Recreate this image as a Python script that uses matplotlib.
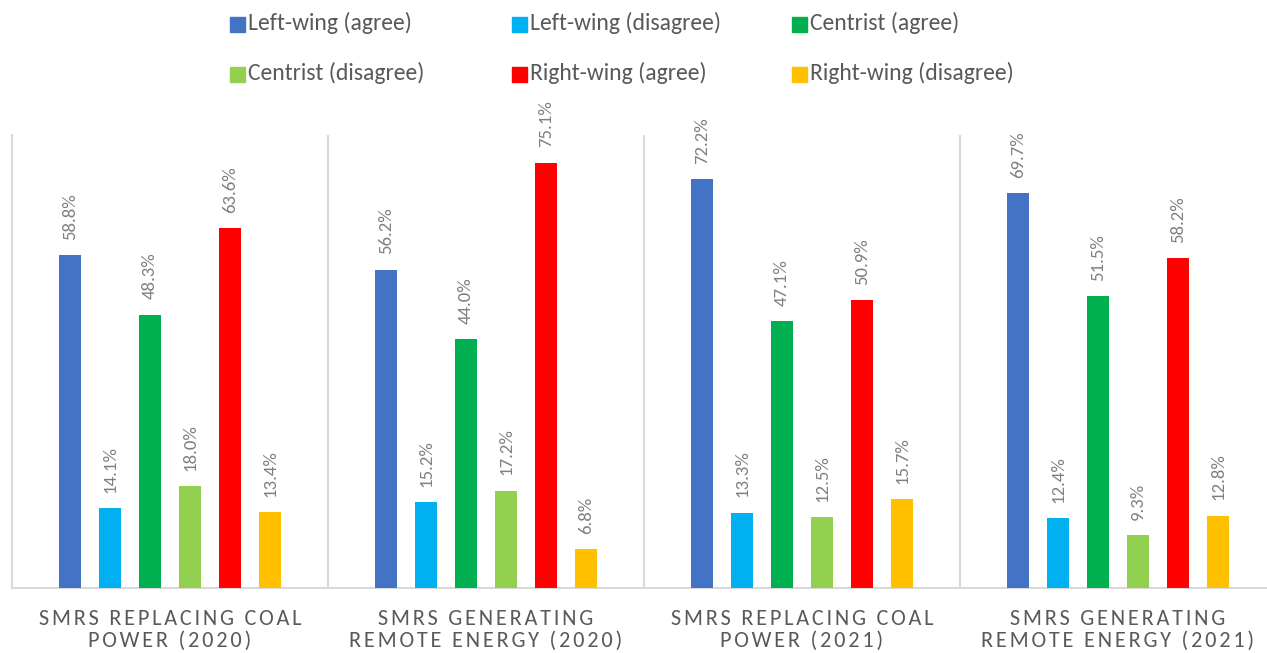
import matplotlib
matplotlib.use("Agg")
import matplotlib.pyplot as plt
from matplotlib.patches import Rectangle
import numpy as np

categories = [
    "SMRS REPLACING COAL\nPOWER (2020)",
    "SMRS GENERATING\nREMOTE ENERGY (2020)",
    "SMRS REPLACING COAL\nPOWER (2021)",
    "SMRS GENERATING\nREMOTE ENERGY (2021)",
]
series_names = [
    "Left-wing (agree)", "Left-wing (disagree)", "Centrist (agree)",
    "Centrist (disagree)", "Right-wing (agree)", "Right-wing (disagree)",
]
left_agree = [58.8, 56.2, 72.2, 69.7]
left_disagree = [14.1, 15.2, 13.3, 12.4]
centrist_agree = [48.3, 44.0, 47.1, 51.5]
centrist_disagree = [18.0, 17.2, 12.5, 9.3]
right_agree = [63.6, 75.1, 50.9, 58.2]
right_disagree = [13.4, 6.8, 15.7, 12.8]
series_values = [left_agree, left_disagree, centrist_agree,
                 centrist_disagree, right_agree, right_disagree]
colors = ["#4472C4", "#00B0F0", "#00B050", "#92D050", "#FF0000", "#FFC000"]

FONT = ["Carlito", "DejaVu Sans"]
W, H = 1267, 653
fig = plt.figure(figsize=(W / 100, H / 100), dpi=100)
ax = fig.add_axes([12 / W, 1 - 588 / H, 1264 / W, (588 - 135) / H])

x = np.arange(len(categories))
step = 40 / 316
bw = 22 / 316
for i, (vals, col) in enumerate(zip(series_values, colors)):
    pos = x + (i - 2.5) * step
    bars = ax.bar(pos, vals, width=bw, color=col, zorder=3)
    for b, v in zip(bars, vals):
        ax.annotate(f"{v:.1f}%", (b.get_x() + b.get_width() / 2, v),
                    xytext=(0, 11), textcoords="offset points",
                    rotation=90, ha="center", va="bottom",
                    fontsize=13.5, color="#7F7F7F", family=FONT)

ax.set_xlim(-0.5, 3.5)
ax.set_ylim(0, 80)
ax.set_yticks([])
ax.spines["top"].set_visible(False)
for s in ["left", "right", "bottom"]:
    ax.spines[s].set_color("#D9D9D9")
    ax.spines[s].set_linewidth(1.5)
for sep in [0.5, 1.5, 2.5]:
    ax.axvline(sep, color="#D9D9D9", lw=1.5, zorder=1)


def spaced(s):
    return "\n".join("\u200a".join(list(line)) for line in s.split("\n"))


ax.set_xticks(x)
ax.set_xticklabels([spaced(c) for c in categories], fontsize=16,
                   color="#595959", family=FONT, linespacing=1.12)
ax.tick_params(axis="x", length=0, pad=15)

# legend (3 columns x 2 rows)
col_x = [230, 512, 792]
row_y = [24, 74]
for i, (name, col) in enumerate(zip(series_names, colors)):
    cx = col_x[i % 3]
    cy = row_y[i // 3]
    fig.patches.append(Rectangle((cx / W, 1 - (cy + 7.5) / H), 15 / W, 15 / H,
                                 transform=fig.transFigure, color=col,
                                 figure=fig))
    fig.text((cx + 18) / W, 1 - (cy - 1) / H, name, ha="left", va="center",
             fontsize=17, color="#595959", family=FONT)

fig.savefig("out.png", dpi=100)
